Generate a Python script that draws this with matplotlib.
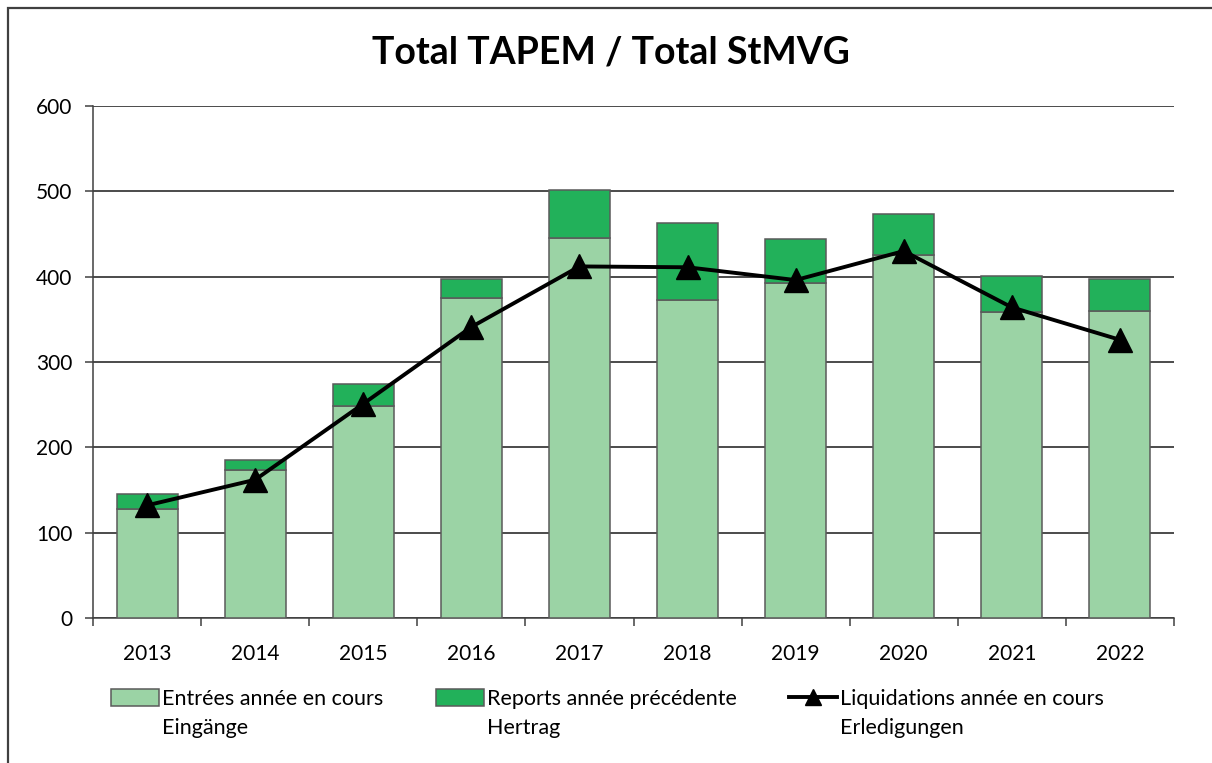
import matplotlib
matplotlib.use("Agg")
import matplotlib.pyplot as plt
from matplotlib.patches import Rectangle, Patch
from matplotlib.lines import Line2D
import numpy as np

years = ["2013", "2014", "2015", "2016", "2017", "2018", "2019", "2020", "2021", "2022"]
entrees = [128, 173, 248, 375, 445, 373, 392, 425, 359, 360]
reports = [17, 12, 26, 22, 57, 90, 52, 48, 42, 37]
liquidations = [132, 162, 251, 341, 412, 411, 396, 430, 364, 326]

label_entrees = ("Entrées année en cours", "Eingänge")
label_reports = ("Reports année précédente", "Hertrag")
label_liq = ("Liquidations année en cours", "Erledigungen")
title = "Total TAPEM / Total StMVG"
yticks = [0, 100, 200, 300, 400, 500, 600]

plt.rcParams['font.family'] = ['Lato', 'DejaVu Sans']

W, H = 1212, 763
fig = plt.figure(figsize=(W / 100, H / 100), dpi=100)
fig.patch.set_facecolor("white")

# outer frame
fig.patches.append(Rectangle((8 / W, -0.2), 1.5, 1.2 - 8 / H, transform=fig.transFigure,
                             fill=False, edgecolor="#404040", linewidth=1.6, zorder=0))

ax = fig.add_axes([93 / W, (H - 618) / H, 1081 / W, 512 / H])
x = np.arange(len(years))
c_light = "#9BD3A5"
c_dark = "#22B15A"
edge = "#5a5a5a"
bw = 0.565
lw_line = 2.8
ax.bar(x, entrees, width=bw, color=c_light, edgecolor=edge, linewidth=1.1, zorder=3)
ax.bar(x, reports, width=bw, bottom=entrees, color=c_dark, edgecolor=edge, linewidth=1.1, zorder=3)
ax.plot(x, liquidations, color="black", linewidth=lw_line, marker="^", markersize=17, zorder=5)

ax.set_xlim(-0.5, len(years) - 0.5)
ax.set_ylim(0, 600)
ax.set_yticks(yticks)
ax.set_yticklabels([str(v) for v in yticks], fontsize=15)
ax.yaxis.grid(True, color="#1a1a1a", linewidth=1.1, zorder=0)
ax.set_axisbelow(True)

ax.set_xticks(x)
ax.set_xticklabels(years, fontsize=15)
ax.set_xticks(np.arange(-0.5, len(years)), minor=True)
ax.tick_params(axis="x", which="major", length=0, pad=19)
ax.tick_params(axis="x", which="minor", length=6, direction="out", color="#404040", width=1.1)
ax.tick_params(axis="y", length=6, direction="out", color="#404040", width=1.1, pad=9)

for s in ["top", "right"]:
    ax.spines[s].set_visible(False)
ax.spines["left"].set_color("#404040")
ax.spines["bottom"].set_color("#404040")
ax.spines["left"].set_linewidth(1.1)
ax.spines["bottom"].set_linewidth(1.1)

fig.text(611 / W, 1 - 53 / H, title, ha="center", va="center", fontsize=27, fontweight="bold")

fs_leg = 15.5
em = fs_leg * 100 / 72
entries = [
    (Patch(facecolor=c_light, edgecolor=edge, linewidth=1.1), label_entrees, 111),
    (Patch(facecolor=c_dark, edgecolor=edge, linewidth=1.1), label_reports, 436),
    (Line2D([0], [0], color="black", linewidth=lw_line, marker="^", markersize=11), label_liq, 789),
]
legs = []
for h, lab, x0 in entries:
    lg = fig.legend([h], [lab[0]], loc="center left", bbox_to_anchor=(x0 / W, 1 - 699 / H),
                    frameon=False, fontsize=fs_leg, handlelength=48 / em, handleheight=17 / em,
                    handletextpad=3 / em, borderpad=0, borderaxespad=0)
    legs.append((lg, lab[1]))

fig.canvas.draw()
renderer = fig.canvas.get_renderer()
for lg, second in legs:
    t = lg.get_texts()[0]
    bb = t.get_window_extent(renderer)
    fig.text(bb.x0 / W, (bb.y0 - 29) / H, second, ha="left", va="bottom", fontsize=fs_leg)

fig.savefig("out.png", dpi=100)
